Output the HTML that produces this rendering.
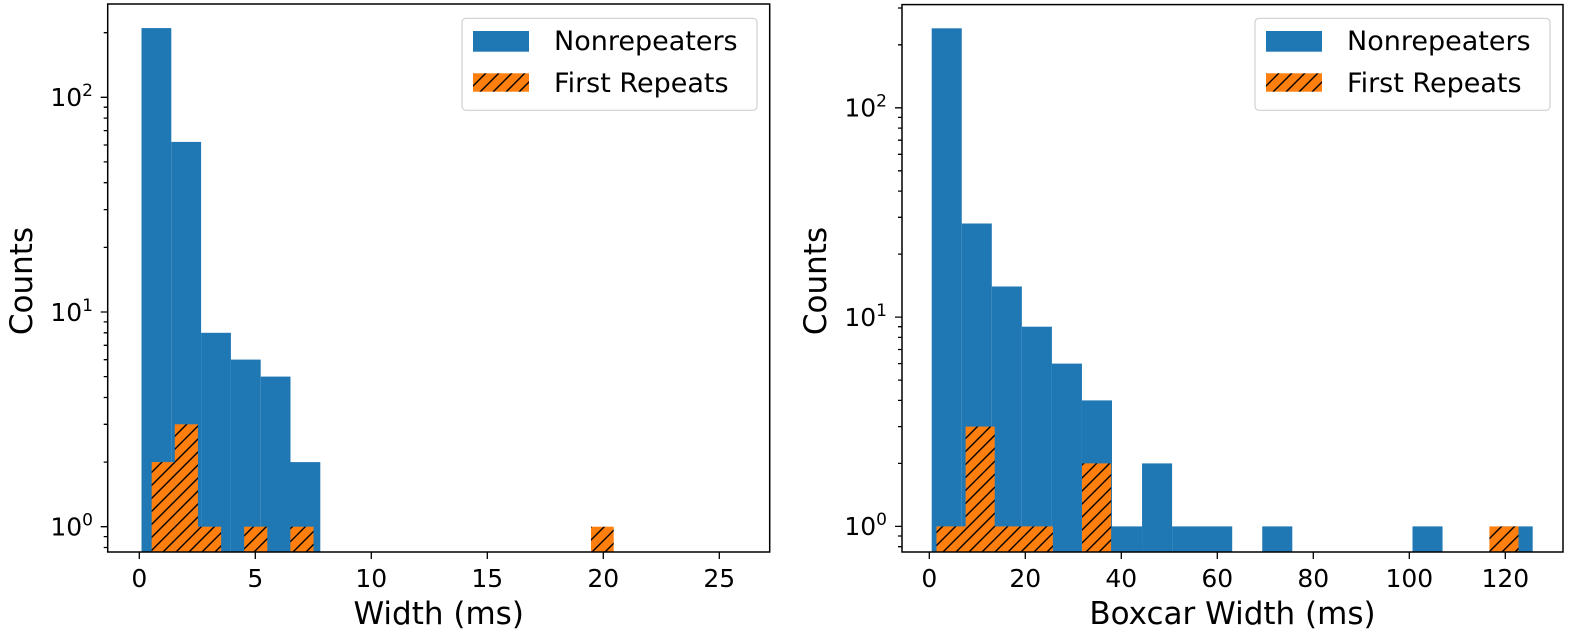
<!DOCTYPE html>
<html><head><meta charset="utf-8"><style>
html,body{margin:0;padding:0;background:#fff;}
svg{display:block;font-family:"DejaVu Sans","Liberation Sans",sans-serif;}
</style></head><body>
<svg width="1570" height="637" viewBox="0 0 1570 637" xmlns="http://www.w3.org/2000/svg">
<defs>
<pattern id="h" patternUnits="userSpaceOnUse" width="13" height="13">
<rect width="13" height="13" fill="#ff7f0e"/>
<path d="M-1,14 L14,-1 M-4,4 L4,-4 M9,17 L17,9" stroke="#000" stroke-width="1.4"/>
</pattern>
</defs>
<rect width="1570" height="637" fill="#fff"/>

<!-- LEFT PLOT -->
<g fill="#1f77b4">
<rect x="141.5" y="28.1" width="29.8" height="523.9"/>
<rect x="171.3" y="141.9" width="29.8" height="410.1"/>
<rect x="201.1" y="332.8" width="29.8" height="219.2"/>
<rect x="230.9" y="359.6" width="29.8" height="192.4"/>
<rect x="260.7" y="376.6" width="29.8" height="175.4"/>
<rect x="290.5" y="462.1" width="29.8" height="89.9"/>
</g>
<g fill="url(#h)">
<rect x="151.7" y="462.1" width="23.1" height="89.9"/>
<rect x="174.8" y="424.3" width="23.1" height="127.7"/>
<rect x="197.9" y="526.7" width="23.2" height="25.3"/>
<rect x="244.2" y="526.7" width="23.1" height="25.3"/>
<rect x="290.4" y="526.7" width="23.1" height="25.3"/>
<rect x="591" y="526.7" width="22.7" height="25.3"/>
</g>
<g stroke="#000" stroke-width="1.3">
<path d="M107.7,526.7h-7M107.7,312h-7M107.7,97.3h-7"/>
<path d="M107.7,547.5h-4M107.7,536.6h-4M107.7,462.1h-4M107.7,424.3h-4M107.7,397.5h-4M107.7,376.6h-4M107.7,359.7h-4M107.7,345.3h-4M107.7,332.8h-4M107.7,321.9h-4M107.7,247.4h-4M107.7,209.6h-4M107.7,182.7h-4M107.7,161.9h-4M107.7,145h-4M107.7,130.6h-4M107.7,118.1h-4M107.7,107.2h-4M107.7,32.7h-4"/>
<path d="M139.3,552v7M255.3,552v7M371.3,552v7M487.3,552v7M603.3,552v7M719.3,552v7"/>
</g>
<rect x="107.7" y="4" width="662" height="548" fill="none" stroke="#000" stroke-width="1.5"/>
<g font-size="25" fill="#000" text-anchor="middle">
<text x="139.3" y="587">0</text><text x="255.3" y="587">5</text><text x="371.3" y="587">10</text>
<text x="487.3" y="587">15</text><text x="603.3" y="587">20</text><text x="719.3" y="587">25</text>
</g>
<g font-size="25" fill="#000" text-anchor="end">
<text x="93" y="535.5">10<tspan font-size="17" dy="-10">0</tspan></text>
<text x="93" y="321">10<tspan font-size="17" dy="-10">1</tspan></text>
<text x="93" y="106">10<tspan font-size="17" dy="-10">2</tspan></text>
</g>
<text x="438.7" y="624" font-size="31" text-anchor="middle">Width (ms)</text>
<text transform="translate(32,281) rotate(-90)" font-size="31" text-anchor="middle">Counts</text>
<rect x="462" y="18.3" width="295" height="92" rx="4" fill="#fff" fill-opacity="0.8" stroke="#d0d0d0" stroke-width="1.2"/>
<rect x="473" y="31" width="56" height="20.7" fill="#1f77b4"/>
<rect x="473" y="73.3" width="56" height="18.4" fill="url(#h)"/>
<text x="554" y="50" font-size="27">Nonrepeaters</text>
<text x="554" y="92" font-size="27">First Repeats</text>

<!-- RIGHT PLOT -->
<g fill="#1f77b4">
<rect x="931.7" y="28.3" width="30.05" height="523.7"/>
<rect x="961.75" y="223.5" width="30.05" height="328.5"/>
<rect x="991.8" y="286.5" width="30.05" height="265.5"/>
<rect x="1021.85" y="326.7" width="30.05" height="225.3"/>
<rect x="1051.9" y="363.6" width="30.05" height="188.4"/>
<rect x="1081.95" y="400.4" width="30.05" height="151.6"/>
<rect x="1112" y="526.4" width="30.05" height="25.6"/>
<rect x="1142.05" y="463.4" width="30.05" height="88.6"/>
<rect x="1172.1" y="526.4" width="60.1" height="25.6"/>
<rect x="1262.25" y="526.4" width="30.05" height="25.6"/>
<rect x="1412.5" y="526.4" width="30.05" height="25.6"/>
<rect x="1502.65" y="526.4" width="30.05" height="25.6"/>
</g>
<g fill="url(#h)">
<rect x="936.5" y="526.4" width="29.1" height="25.6"/>
<rect x="965.6" y="426.6" width="29.1" height="125.4"/>
<rect x="994.7" y="526.4" width="58.2" height="25.6"/>
<rect x="1082" y="463.4" width="29.1" height="88.6"/>
<rect x="1489.4" y="526.4" width="29.1" height="25.6"/>
</g>
<g stroke="#000" stroke-width="1.3">
<path d="M902,526.4h-7M902,317.1h-7M902,107.8h-7"/>
<path d="M902,546.7h-4M902,536h-4M902,463.4h-4M902,426.6h-4M902,400.4h-4M902,380.1h-4M902,363.6h-4M902,349.5h-4M902,337.4h-4M902,326.7h-4M902,254.1h-4M902,217.3h-4M902,191.1h-4M902,170.8h-4M902,154.3h-4M902,140.2h-4M902,128.1h-4M902,117.4h-4M902,44.8h-4M902,8h-4"/>
<path d="M929.3,552v7M1025.3,552v7M1121.3,552v7M1217.3,552v7M1313.3,552v7M1409.3,552v7M1505.3,552v7"/>
</g>
<rect x="902" y="4.6" width="661" height="547.4" fill="none" stroke="#000" stroke-width="1.5"/>
<g font-size="25" fill="#000" text-anchor="middle">
<text x="929.3" y="587">0</text><text x="1025.3" y="587">20</text><text x="1121.3" y="587">40</text>
<text x="1217.3" y="587">60</text><text x="1313.3" y="587">80</text><text x="1409.3" y="587">100</text><text x="1505.3" y="587">120</text>
</g>
<g font-size="25" fill="#000" text-anchor="end">
<text x="887" y="535.2">10<tspan font-size="17" dy="-10">0</tspan></text>
<text x="887" y="326">10<tspan font-size="17" dy="-10">1</tspan></text>
<text x="887" y="116.5">10<tspan font-size="17" dy="-10">2</tspan></text>
</g>
<text x="1232.5" y="624" font-size="31" text-anchor="middle">Boxcar Width (ms)</text>
<text transform="translate(826,281) rotate(-90)" font-size="31" text-anchor="middle">Counts</text>
<rect x="1255" y="18.3" width="295" height="92" rx="4" fill="#fff" fill-opacity="0.8" stroke="#d0d0d0" stroke-width="1.2"/>
<rect x="1266" y="31" width="56" height="20.7" fill="#1f77b4"/>
<rect x="1266" y="73.3" width="56" height="18.4" fill="url(#h)"/>
<text x="1347" y="50" font-size="27">Nonrepeaters</text>
<text x="1347" y="92" font-size="27">First Repeats</text>
</svg>
</body></html>
